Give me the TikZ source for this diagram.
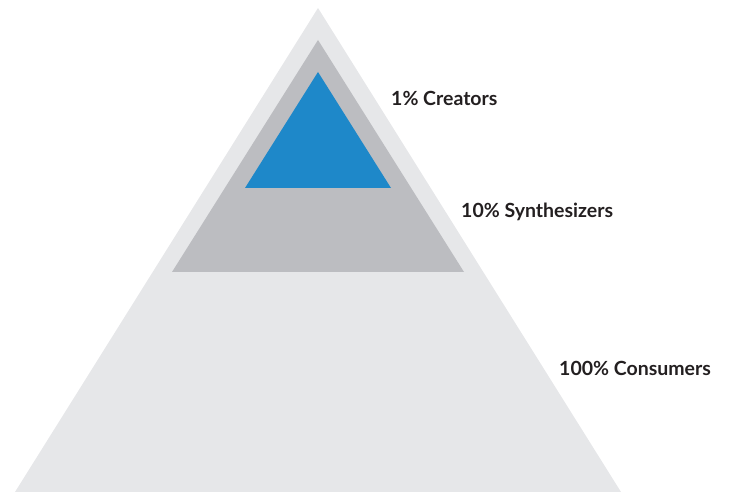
\documentclass[tikz,border=0pt]{standalone}
\usepackage{fontspec}
\setmainfont{Lato}
\usepackage{tikz}
\definecolor{tierlight}{HTML}{E6E7E9}
\definecolor{tiermid}{HTML}{BCBDC1}
\definecolor{tiertop}{HTML}{1E88C9}
\definecolor{labeltext}{HTML}{231F20}
\tikzset{tier/.style={fill=#1, draw=none},
	tierlabel/.style={anchor=west, inner sep=0pt, text=labeltext, font=\bfseries\fontsize{19.5}{23}\selectfont}}

\begin{document}
\begin{tikzpicture}[x=1pt, y=1pt]
\path[use as bounding box] (0,0) rectangle (729,492);
\fill[tier=tierlight] (318,484) -- (15,0) -- (621,0) -- cycle;
\fill[tier=tiermid] (318,452) -- (172,220) -- (464,220) -- cycle;
\fill[tier=tiertop] (318,420) -- (245,304) -- (391,304) -- cycle;

\node[tierlabel] (creators) at (391,394) {1\% Creators};
\node[tierlabel] (synth) at (461,280) {10\% Synthesizers};
\node[tierlabel] (consumers) at (559,124) {100\% Consumers};
\end{tikzpicture}
\end{document}
